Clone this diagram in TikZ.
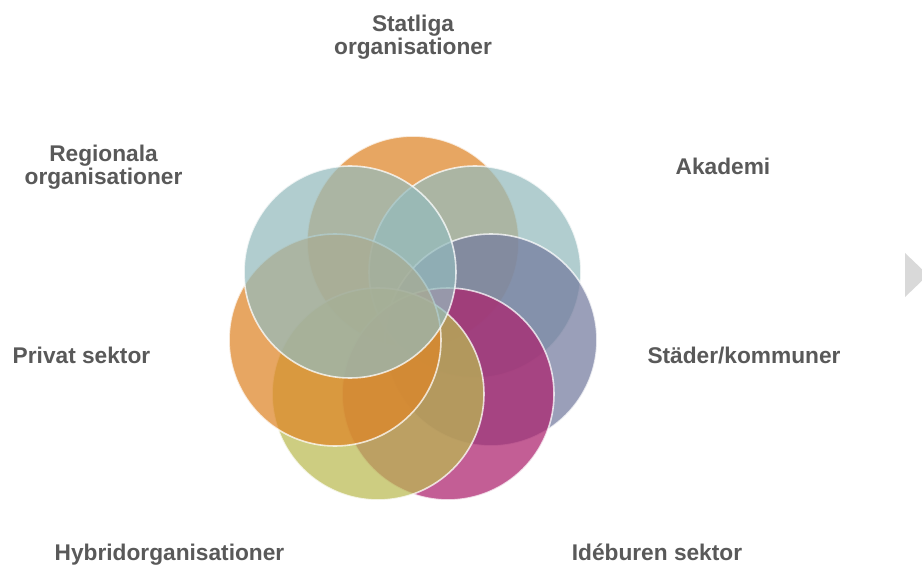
\documentclass[tikz,border=0pt]{standalone}
\usepackage{fontspec}
\setmainfont{Liberation Sans}
\definecolor{txt}{HTML}{595959}
\definecolor{corange}{RGB}{222,133,38}
\definecolor{cteal}{RGB}{148,187,189}
\definecolor{cblue}{RGB}{116,123,158}
\definecolor{cmag}{RGB}{172,33,109}
\definecolor{cyel}{RGB}{186,186,81}
\definecolor{tri}{RGB}{217,217,217}
\tikzset{
  ring/.style={circle, minimum size=212pt, inner sep=0pt, fill=#1, fill opacity=0.72,
     draw=white, draw opacity=0.75, line width=1.6pt},
  lab/.style={font=\fontsize{22.7}{23}\selectfont\bfseries, text=txt, align=center, inner sep=0pt, anchor=base}
}
\begin{document}
\begin{tikzpicture}[x=1pt,y=-1pt]
\useasboundingbox (0,0) rectangle (922,567);
\fill[white] (0,0) rectangle (922,567);
% circles
\node[ring=corange] (c1) at (413,242) {};
\node[ring=cteal]   (c2) at (475,272) {};
\node[ring=cblue]   (c3) at (491,340) {};
\node[ring=cmag]    (c4) at (448,394) {};
\node[ring=cyel]    (c5) at (378,394) {};
\node[ring=corange] (c6) at (335,340) {};
\node[ring=cteal]   (c7) at (350,272) {};
% labels
\node[lab] (l1) at (413,55) {Statliga\\organisationer};
\node[lab] (l2) at (723,175) {Akademi};
\node[lab] (l3) at (744,363) {Städer/kommuner};
\node[lab] (l4) at (657,560) {Idéburen sektor};
\node[lab] (l5) at (169.5,560) {Hybridorganisationer};
\node[lab] (l6) at (81.5,363) {Privat sektor};
\node[lab] (l7) at (103.5,185) {Regionala\\organisationer};
% right arrow hint
\fill[tri] (905,253) -- (928,275) -- (905,297) -- cycle;
\end{tikzpicture}
\end{document}
